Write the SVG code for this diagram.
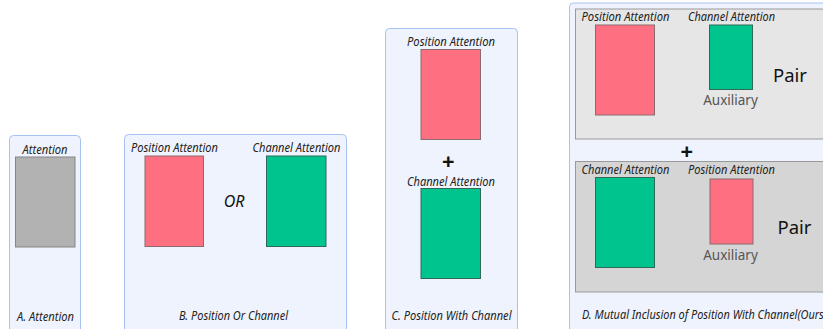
<svg xmlns="http://www.w3.org/2000/svg" width="823" height="329" viewBox="0 0 823 329">
  <style>
    .panel { fill: #eff3fd; stroke: #a7c2f2; stroke-width: 1; }
    .inner1 { fill: #e6e6e6; stroke: #9a9a9a; stroke-width: 1; }
    .inner2 { fill: #d5d5d5; stroke: #9a9a9a; stroke-width: 1; }
    .pos { fill: #fe6f82; stroke: #8a6a6e; stroke-width: 1; }
    .chan { fill: #00c48d; stroke: #2f6a58; stroke-width: 1; }
    .plain { fill: #b2b2b2; stroke: #858585; stroke-width: 1; }
    .lbl { font-family: "Noto Sans", "Open Sans", sans-serif; font-style: italic; font-size: 12px; fill: #222; }
    .cap { font-family: "Noto Sans", "Open Sans", sans-serif; font-style: italic; font-size: 12px; fill: #222; }
    .op { font-family: "Noto Sans", "Open Sans", sans-serif; font-style: italic; font-size: 16px; fill: #111; }
    .plus { font-family: "Noto Sans", "Open Sans", sans-serif; font-style: italic; font-weight: bold; font-size: 22px; fill: #111; }
    .pair { font-family: "Noto Sans", "Open Sans", sans-serif; font-size: 18.5px; fill: #111; }
    .aux { font-family: "Noto Sans", "Open Sans", sans-serif; font-size: 13.5px; fill: #555; }
  </style>

  <!-- A: plain attention -->
  <g id="panel-a">
    <rect class="panel" x="9.5" y="135.5" width="71" height="210" rx="4"/>
    <text class="lbl" x="45" y="153.5" text-anchor="middle" textLength="45" lengthAdjust="spacingAndGlyphs">Attention</text>
    <rect class="plain" x="15.5" y="157" width="59.5" height="90"/>
    <text class="cap" x="45.5" y="320.5" text-anchor="middle" textLength="57" lengthAdjust="spacingAndGlyphs">A. Attention</text>
  </g>

  <!-- B: position or channel -->
  <g id="panel-b">
    <rect class="panel" x="124.5" y="134.5" width="222" height="210" rx="4"/>
    <text class="lbl" x="174.5" y="151.5" text-anchor="middle" textLength="87" lengthAdjust="spacingAndGlyphs">Position Attention</text>
    <rect class="pos" x="145" y="156" width="58.5" height="90.5"/>
    <text class="op" x="234" y="206.5" text-anchor="middle">OR</text>
    <text class="lbl" x="296.5" y="151.5" text-anchor="middle" textLength="88" lengthAdjust="spacingAndGlyphs">Channel Attention</text>
    <rect class="chan" x="266.5" y="156" width="59.5" height="90.5"/>
    <text class="cap" x="233.5" y="319.5" text-anchor="middle" textLength="109" lengthAdjust="spacingAndGlyphs">B. Position Or Channel</text>
  </g>

  <!-- C: position with channel -->
  <g id="panel-c">
    <rect class="panel" x="385.5" y="28.5" width="132" height="320" rx="4"/>
    <text class="lbl" x="451" y="45.5" text-anchor="middle" textLength="88" lengthAdjust="spacingAndGlyphs">Position Attention</text>
    <rect class="pos" x="421" y="49.5" width="59.5" height="90"/>
    <text class="plus" x="448" y="169" text-anchor="middle">+</text>
    <text class="lbl" x="451" y="186" text-anchor="middle" textLength="88" lengthAdjust="spacingAndGlyphs">Channel Attention</text>
    <rect class="chan" x="421" y="188.5" width="59.5" height="90"/>
    <text class="cap" x="451.5" y="319.5" text-anchor="middle" textLength="120" lengthAdjust="spacingAndGlyphs">C. Position With Channel</text>
  </g>

  <!-- D: mutual inclusion of position and channel -->
  <g id="panel-d">
    <rect class="panel" x="569.5" y="3" width="270" height="345" rx="4"/>
    <text class="plus" x="686.5" y="159" text-anchor="middle">+</text>
    <text class="cap" x="582" y="319" textLength="245" lengthAdjust="spacingAndGlyphs">D. Mutual Inclusion of Position With Channel(Ours)</text>
  </g>

  <g id="pair-position-main">
    <rect class="inner1" x="575.5" y="9" width="260" height="130"/>
    <text class="lbl" x="625.5" y="20.5" text-anchor="middle" textLength="88" lengthAdjust="spacingAndGlyphs">Position Attention</text>
    <rect class="pos" x="595.5" y="25" width="59" height="90"/>
    <text class="lbl" x="731.5" y="20.5" text-anchor="middle" textLength="87" lengthAdjust="spacingAndGlyphs">Channel Attention</text>
    <rect class="chan" x="709.5" y="25" width="43" height="64.5"/>
    <text class="aux" x="730.5" y="105" text-anchor="middle">Auxiliary</text>
    <text class="pair" x="790" y="81.5" text-anchor="middle">Pair</text>
  </g>

  <g id="pair-channel-main">
    <rect class="inner2" x="575.5" y="161.5" width="260" height="130.5"/>
    <text class="lbl" x="625.5" y="173.5" text-anchor="middle" textLength="88" lengthAdjust="spacingAndGlyphs">Channel Attention</text>
    <rect class="chan" x="595.5" y="177.5" width="59" height="90"/>
    <text class="lbl" x="731.5" y="173.5" text-anchor="middle" textLength="87" lengthAdjust="spacingAndGlyphs">Position Attention</text>
    <rect class="pos" x="710" y="179" width="43" height="65"/>
    <text class="aux" x="730.5" y="260" text-anchor="middle">Auxiliary</text>
    <text class="pair" x="794.5" y="233.5" text-anchor="middle">Pair</text>
  </g>

  <g id="connectors"/>
</svg>
